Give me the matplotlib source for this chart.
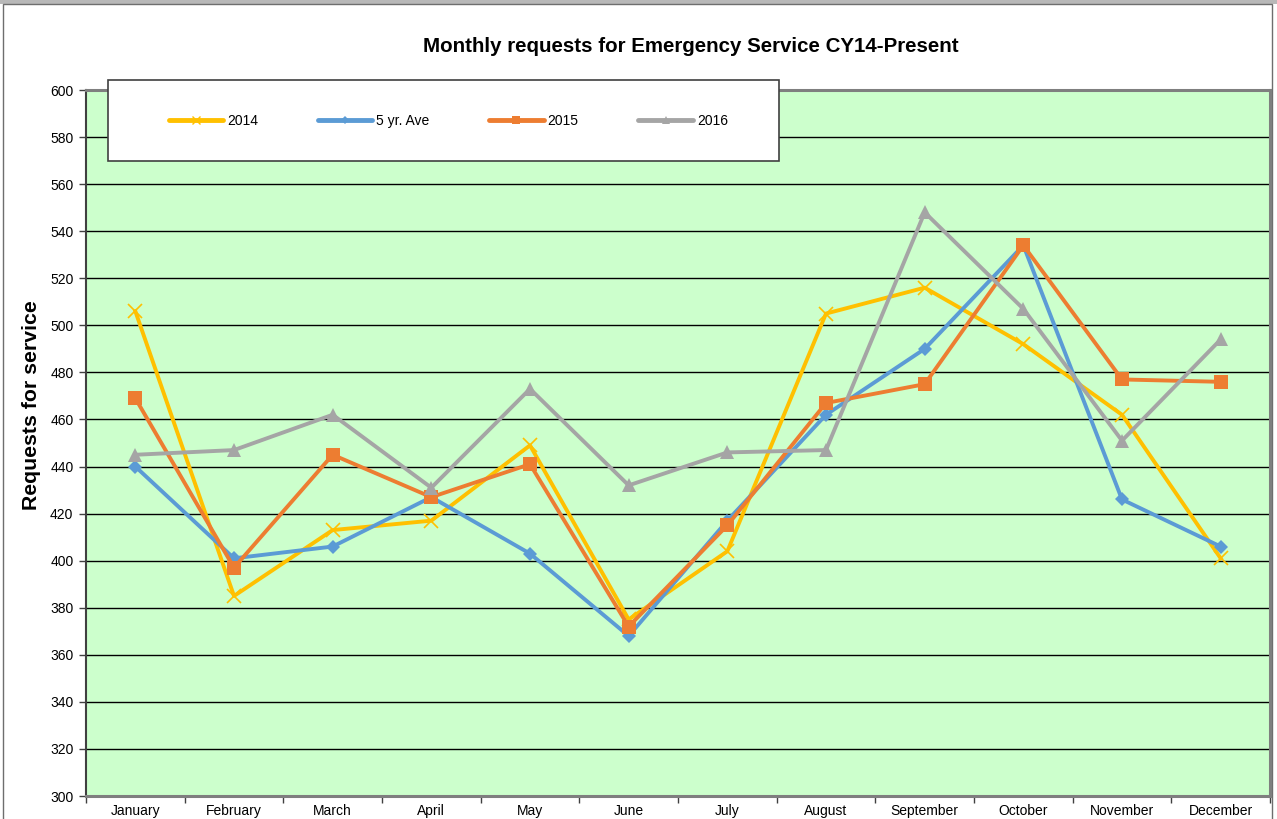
import matplotlib
matplotlib.use("Agg")
import matplotlib.pyplot as plt
from matplotlib.patches import Rectangle
from matplotlib.lines import Line2D

plt.rcParams['font.family'] = ['Liberation Sans', 'DejaVu Sans']

months = ["January", "February", "March", "April", "May", "June", "July",
          "August", "September", "October", "November", "December"]
s2014 = [506, 385, 413, 417, 449, 375, 404, 505, 516, 492, 462, 401]
s5yr = [440, 401, 406, 427, 403, 368, 417, 462, 490, 534, 426, 406]
s2015 = [469, 397, 445, 427, 441, 372, 415, 467, 475, 534, 477, 476]
s2016 = [445, 447, 462, 431, 473, 432, 446, 447, 548, 507, 451, 494]
series_names = ["2014", "5 yr. Ave", "2015", "2016"]
colors = ["#FFC000", "#5B9BD5", "#ED7D31", "#A5A5A5"]
title = "Monthly requests for Emergency Service CY14-Present"
ylabel = "Requests for service"

W, H = 1277, 819
fig = plt.figure(figsize=(W / 100, H / 100), dpi=100)
fig.patch.set_facecolor("white")

# outer chart border
fig.add_artist(Rectangle((0, 1 - 4 / H), 1, 4 / H, transform=fig.transFigure,
                         facecolor="#b8b8b8", edgecolor="none", zorder=0))
fig.add_artist(Rectangle((3 / W, -0.02), (1272 - 3) / W, 1 - 4 / H + 0.02,
                         transform=fig.transFigure, facecolor="none",
                         edgecolor="#6e6e6e", lw=1.0, zorder=0))

left, right, top, bottom = 86, 1270, 90, 796
ax = fig.add_axes([left / W, 1 - bottom / H, (right - left) / W, (bottom - top) / H])
ax.set_facecolor("#CCFFCC")

x = list(range(len(months)))
data = [s2014, s5yr, s2015, s2016]
markers = ["x", "D", "s", "^"]
msizes = [10, 7.5, 10, 10]
for vals, name, c, m, ms in zip(data, series_names, colors, markers, msizes):
    ax.plot(x, vals, color=c, lw=2.8, marker=m, markersize=ms,
            markeredgewidth=1.2 if m == "x" else 0, markeredgecolor=c,
            markerfacecolor=c, label=name, zorder=3, clip_on=False)

ax.set_xlim(-0.5, len(months) - 0.5)
ax.set_ylim(300, 600)
ax.set_yticks(range(300, 601, 20))
ax.yaxis.grid(True, color="black", lw=1.0)
ax.set_axisbelow(True)
ax.tick_params(axis="y", direction="out", length=5, width=1, labelsize=10, pad=4, color="#404040")

ax.set_xticks(x)
ax.set_xticklabels(months, fontsize=10)
ax.tick_params(axis="x", which="major", length=0, pad=6)
ax.set_xticks([i - 0.5 for i in range(len(months) + 1)], minor=True)
ax.tick_params(axis="x", which="minor", direction="out", length=5, width=1, color="#404040")

for sp in ["top", "right", "bottom"]:
    ax.spines[sp].set_color("#7f7f7f")
    ax.spines[sp].set_linewidth(2.2)
ax.spines["left"].set_color("#404040")
ax.spines["left"].set_linewidth(1.5)

fig.text(691 / W, 1 - 46 / H, title, ha="center", va="center",
         fontsize=14.8, fontweight="bold")
fig.text(32 / W, 1 - 405 / H, ylabel, ha="center", va="center",
         rotation=90, fontsize=15.3, fontweight="bold")

# legend box
lx0, lx1, ly0, ly1 = 108, 779, 80, 161
fig.add_artist(Rectangle((lx0 / W, 1 - ly1 / H), (lx1 - lx0) / W, (ly1 - ly0) / H,
                         transform=fig.transFigure, facecolor="white",
                         edgecolor="#404040", lw=1.2, zorder=5))
handles = [Line2D([], [], color=c, lw=3.5, solid_capstyle="round", marker=m,
                  markersize=ms * 0.55, markeredgewidth=1 if m == "x" else 0,
                  markeredgecolor=c, markerfacecolor=c)
           for c, m, ms in zip(colors, markers, msizes)]
leg = fig.legend(handles, series_names, loc="center left",
                 bbox_to_anchor=(169 / W, 1 - 121 / H),
                 ncol=4, frameon=False, fontsize=10, handlelength=3.9,
                 handletextpad=0.3, columnspacing=4.3, borderaxespad=0, borderpad=0)
leg.set_zorder(6)

fig.savefig("out.png", dpi=100)
